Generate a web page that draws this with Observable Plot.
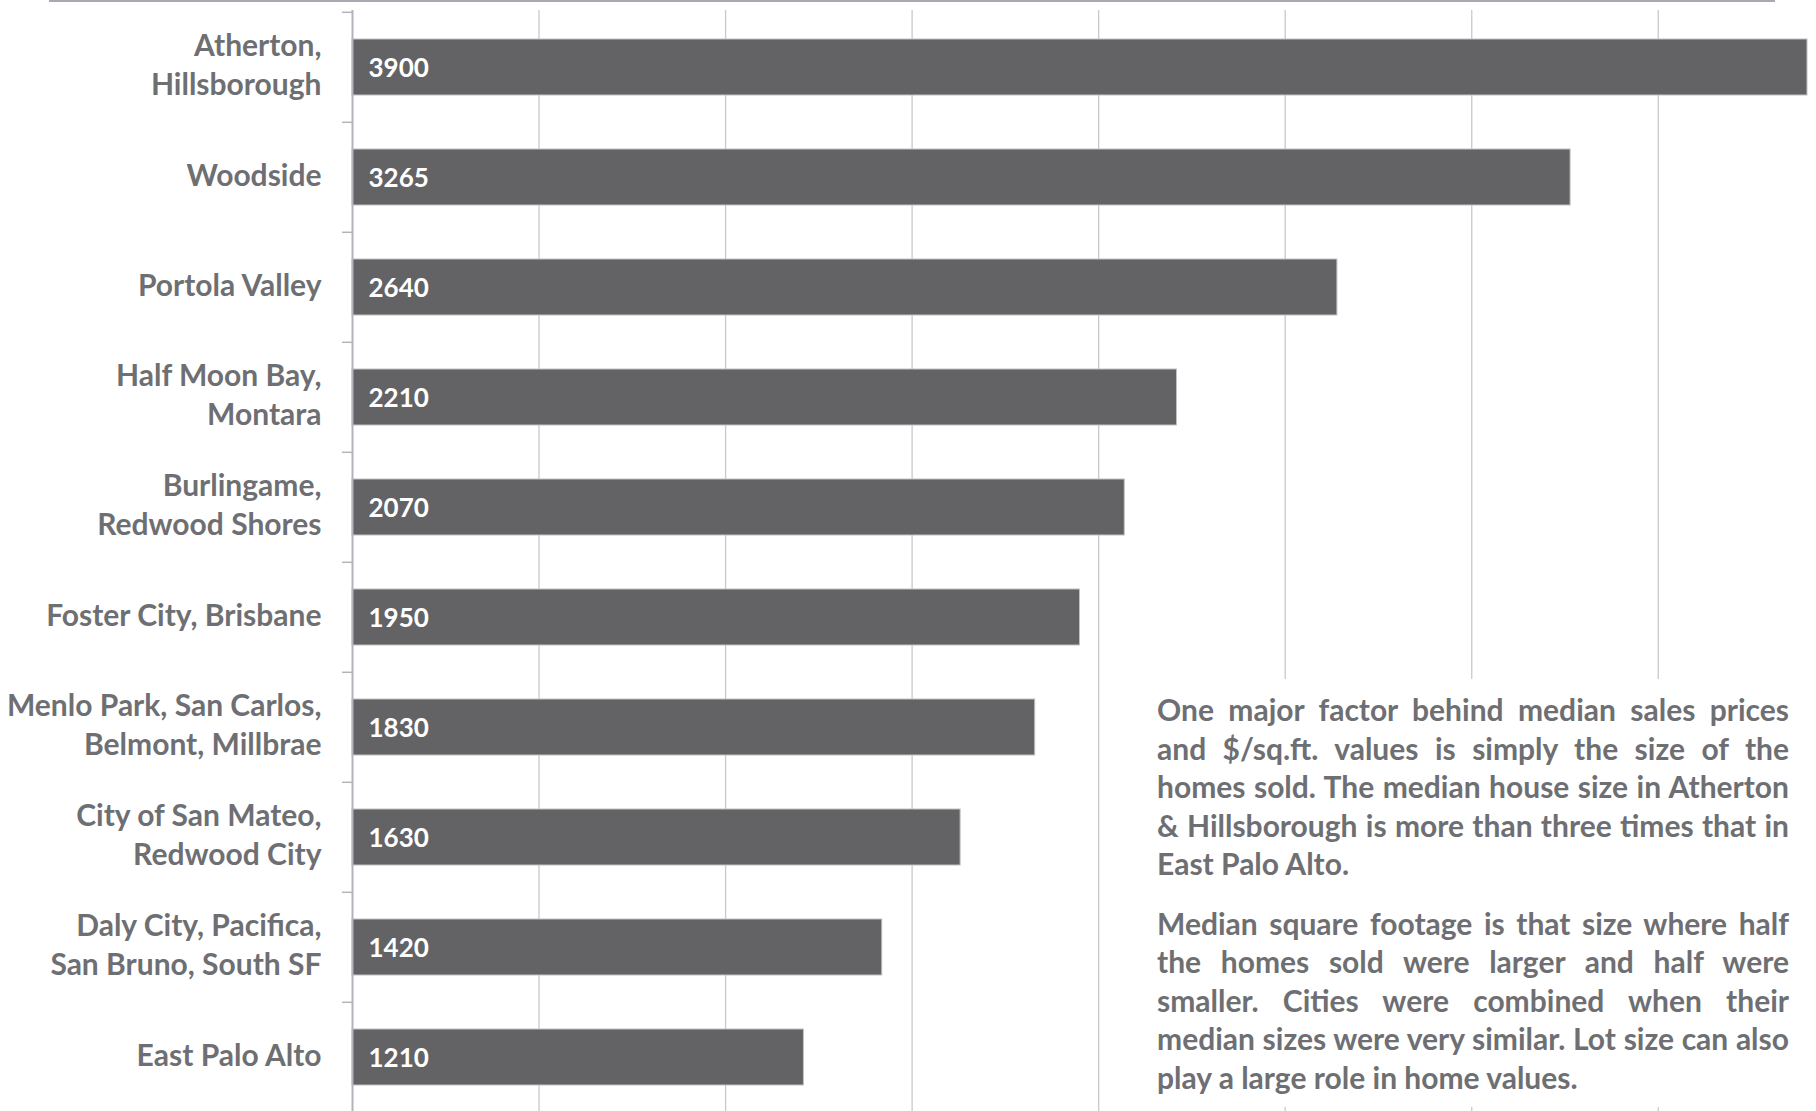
<!DOCTYPE html>
<html>
<head>
<meta charset="utf-8">
<script src="https://cdn.jsdelivr.net/npm/d3@7"></script>
<script src="https://cdn.jsdelivr.net/npm/@observablehq/plot@0.6"></script>
<style>
  html, body { margin: 0; padding: 0; background: #fff; }
  #wrap { position: relative; width: 1816px; height: 1111px; overflow: hidden; }
  #topline { position: absolute; left: 49px; top: 0; width: 1726px; height: 2px; background: #a9a9b1; }
  #note { position: absolute; left: 1140px; top: 679px; width: 676px; height: 428px; background: #fff; }
  #note .inner { position: absolute; left: 17px; top: 11px; width: 632px;
    font-family: Lato, "Open Sans", sans-serif; font-weight: 700; font-size: 30px; line-height: 38.6px; color: #6e6f73; }
  #note .ln { white-space: nowrap; text-align: justify; text-align-last: justify; }
  #note .ln.last { text-align-last: left; }
  #note .p2 { margin-top: 20.6px; }
</style>
</head>
<body>
<div id="wrap">
  <div id="chart"></div>
  <div id="topline"></div>
  <div id="note"><div class="inner" id="noteInner"></div></div>
</div>
<script>
const categories = [
  "Atherton,\nHillsborough",
  "Woodside",
  "Portola Valley",
  "Half Moon Bay,\nMontara",
  "Burlingame,\nRedwood Shores",
  "Foster City, Brisbane",
  "Menlo Park, San Carlos,\nBelmont, Millbrae",
  "City of San Mateo,\nRedwood City",
  "Daly City, Pacifica,\nSan Bruno, South SF",
  "East Palo Alto"
];
const values = [3900, 3265, 2640, 2210, 2070, 1950, 1830, 1630, 1420, 1210];
const gridTicks = [500, 1000, 1500, 2000, 2500, 3000, 3500];
const noteParagraphs = [
  ["One major factor behind median sales prices",
   "and $/sq.ft. values is simply the size of the",
   "homes sold. The median house size in Atherton",
   "& Hillsborough is more than three times that in",
   "East Palo Alto."],
  ["Median square footage is that size where half",
   "the homes sold were larger and half were",
   "smaller. Cities were combined when their",
   "median sizes were very similar. Lot size can also",
   "play a large role in home values."]
];

const data = categories.map((name, i) => ({name, value: values[i]}));

const W = 1816, H = 1111, ML = 352, MR = 9, MT = 10, MB = 0;
const yRange = [MT, MT + 1104];
const step = (yRange[1] - yRange[0]) / categories.length;
const font = "Lato, 'Open Sans', sans-serif";
const labelColor = "#6e6f73";

const chart = Plot.plot({
  width: W, height: H,
  marginLeft: ML, marginRight: MR, marginTop: MT, marginBottom: MB,
  style: {background: "#fff", fontFamily: font, overflow: "hidden"},
  x: {domain: [0, 3900], axis: null},
  y: {domain: categories, range: yRange, paddingInner: 0.49, paddingOuter: 0.245, label: null},
  marks: [
    Plot.ruleX(gridTicks, {stroke: "#c9c9c9", strokeWidth: 1.3}),
    Plot.barX(data, {x: "value", y: "name", fill: "#636365", stroke: "#c2c2c4", strokeWidth: 1}),
    Plot.ruleX([0], {stroke: "#b3b3bb", strokeWidth: 2}),
    Plot.axisY({tickSize: 10, fill: "none", dy: -step / 2, stroke: "#b3b3bb", strokeWidth: 1.5, label: null}),
    Plot.text(data, {x: 0, y: "name", text: "name", textAnchor: "end", dx: -31, dy: -4,
      fontSize: 30, fontWeight: 700, fill: labelColor, lineHeight: 1.3, fontFamily: font}),
    Plot.text(data, {x: 0, y: "name", text: d => String(d.value), textAnchor: "start", dx: 16, dy: 1,
      fontSize: 26, fontWeight: 700, fill: "#ffffff", fontFamily: font})
  ]
});
document.getElementById("chart").appendChild(chart);

const inner = document.getElementById("noteInner");
noteParagraphs.forEach((lines, pi) => {
  const p = document.createElement("div");
  if (pi > 0) p.className = "p2";
  lines.forEach((t, li) => {
    const d = document.createElement("div");
    d.className = "ln" + (li === lines.length - 1 ? " last" : "");
    const s = document.createElement("span");
    s.textContent = t;
    d.appendChild(s);
    p.appendChild(d);
  });
  inner.appendChild(p);
});
// shrink letter spacing of any line whose natural width exceeds the column
inner.querySelectorAll(".ln").forEach(d => {
  const s = d.firstChild;
  const w = s.getBoundingClientRect().width;
  const maxW = 632;
  if (w > maxW) {
    const n = s.textContent.length;
    d.style.letterSpacing = (-(w - maxW + 2) / n) + "px";
  }
});
</script>
</body>
</html>
